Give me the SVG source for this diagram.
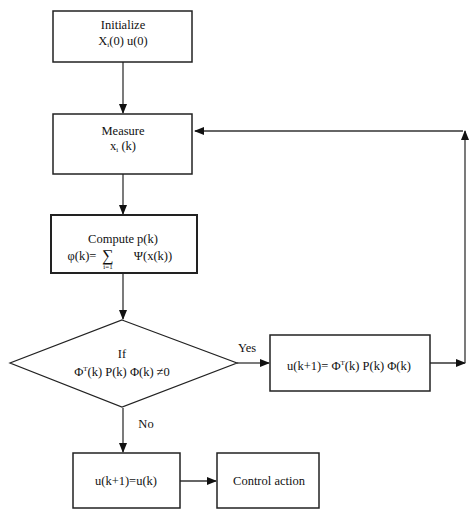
<svg xmlns="http://www.w3.org/2000/svg" width="474" height="515" viewBox="0 0 474 515">
<defs>
<marker id="ah" markerWidth="10" markerHeight="8" refX="9" refY="4" orient="auto" markerUnits="userSpaceOnUse">
<path d="M0,0 L10,4 L0,8 Z" fill="#111"/>
</marker>
<style>
.box{fill:#fff;stroke:#222;stroke-width:1.5}
.ln{fill:none;stroke:#333;stroke-width:1.3}
text{font-family:'Liberation Serif','Times New Roman',serif;font-size:12.5px;fill:#111;text-anchor:middle}
.sm{font-size:7px}
</style>
</defs>
<rect width="474" height="515" fill="#fff"/>
<g id="connectors">
<line class="ln" x1="123" y1="62" x2="123" y2="113" marker-end="url(#ah)"/>
<line class="ln" x1="123" y1="174" x2="123" y2="214" marker-end="url(#ah)"/>
<line class="ln" x1="123" y1="273" x2="123" y2="319" marker-end="url(#ah)"/>
<line class="ln" x1="237" y1="363" x2="269" y2="363" marker-end="url(#ah)"/>
<line class="ln" x1="430" y1="363" x2="465" y2="363" marker-end="url(#ah)"/>
<line class="ln" x1="465" y1="363" x2="465" y2="131" marker-end="url(#ah)"/>
<line class="ln" x1="463" y1="131" x2="195" y2="131" marker-end="url(#ah)"/>
<line class="ln" x1="123" y1="408" x2="123" y2="452" marker-end="url(#ah)"/>
<line class="ln" x1="180" y1="481" x2="216" y2="481" marker-end="url(#ah)"/>
<text x="247" y="352">Yes</text>
<text x="146" y="428">No</text>
</g>
<g id="init">
<rect class="box" x="53" y="11" width="139" height="51"/>
<text x="123" y="29">Initialize</text>
<text x="123" y="45">X<tspan class="sm" dy="2">i</tspan><tspan dy="-2">(0) u(0)</tspan></text>
</g>
<g id="measure">
<rect class="box" x="53" y="114" width="139" height="60"/>
<text x="123" y="135">Measure</text>
<text x="123" y="150">x<tspan class="sm" dy="2">i</tspan><tspan dy="-2"> (k)</tspan></text>
</g>
<g id="compute">
<rect class="box" x="51" y="215" width="146" height="58" style="stroke-width:2"/>
<text x="123" y="243">Compute p(k)</text>
<text x="82" y="260">φ(k)=</text>
<text x="108" y="261" style="font-size:16px">∑</text>
<text x="153" y="260">Ψ(x(k))</text>
<text class="sm" x="108" y="269">i=1</text>
</g>
<g id="decision">
<polygon class="box" points="122,320 237,363 122,407 10,363" style="stroke-width:1.2"/>
<text x="122" y="358">If</text>
<text x="122" y="376">Φ<tspan class="sm" dy="-5">T</tspan><tspan dy="5">(k) P(k) Φ(k)  ≠0</tspan></text>
</g>
<g id="update">
<rect class="box" x="270" y="335" width="160" height="56"/>
<text x="349" y="370">u(k+1)= Φ<tspan class="sm" dy="-5">T</tspan><tspan dy="5">(k) P(k) Φ(k)</tspan></text>
</g>
<g id="hold">
<rect class="box" x="73" y="453" width="107" height="55"/>
<text x="126" y="485">u(k+1)=u(k)</text>
</g>
<g id="action">
<rect class="box" x="217" y="453" width="102" height="55"/>
<text x="269" y="485">Control action</text>
</g>
</svg>
